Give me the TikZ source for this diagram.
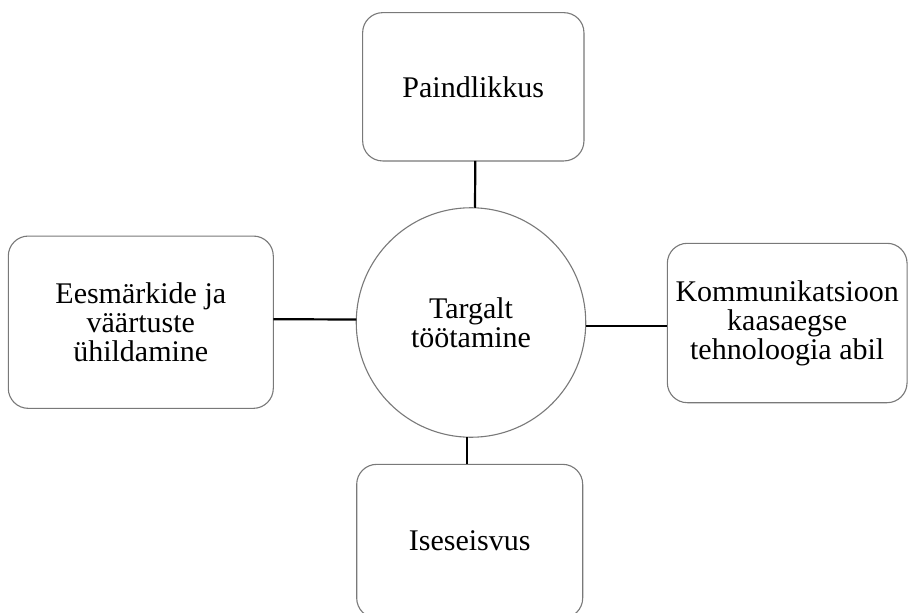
\documentclass[tikz,border=0pt]{standalone}
\usepackage{fontspec}
\setmainfont{Liberation Serif}
\begin{document}
\begin{tikzpicture}[x=1pt,y=-1pt,
  label text/.style={font=\fontsize{30}{29}\selectfont, align=center, text=black},
  roundbox/.style={label text, draw=gray!95!black, line width=1.1pt, fill=white,
    rectangle, rounded corners=20pt, inner sep=0pt, outer sep=0pt},
  hub/.style={label text, draw=gray!95!black, line width=1.1pt, fill=white,
    circle, inner sep=0pt, outer sep=0pt, minimum size=229.5pt},
  conn/.style={draw=black, line width=2.2pt}]
  % canvas
  \fill[white] (0,0) rectangle (908,613);
  \useasboundingbox (0,0) rectangle (908,613);

  % central idea
  \node[hub] (circ) at (471,322.5) {Targalt\\töötamine};

  % surrounding aspects
  \node[roundbox, minimum width=221.3pt, minimum height=148.3pt] (top) at (473.3,86.8) {Paindlikkus};
  \node[roundbox, minimum width=265pt, minimum height=172.3pt] (left) at (140.8,322.2)
    {Eesmärkide ja\\väärtuste\\ühildamine};
  \node[roundbox, minimum width=239.7pt, minimum height=159.4pt] (right) at (787.2,323)
    {Kommunikatsioon\\kaasaegse\\tehnoloogia abil};
  \node[roundbox, minimum width=226pt, minimum height=153.7pt] (bot) at (469.7,541.2) {Iseseisvus};

  % connectors
  \draw[conn] ([xshift=2pt]top.south) -- ([xshift=4pt]circ.north);
  \draw[conn] ([yshift=3pt]left.east) -- ([yshift=3pt]circ.west);
  \draw[conn] ([yshift=-3.5pt]circ.east) -- ([yshift=-3pt]right.west);
  \draw[conn] ([xshift=-3.7pt]circ.south) -- ([xshift=-2.4pt]bot.north);
\end{tikzpicture}
\end{document}
